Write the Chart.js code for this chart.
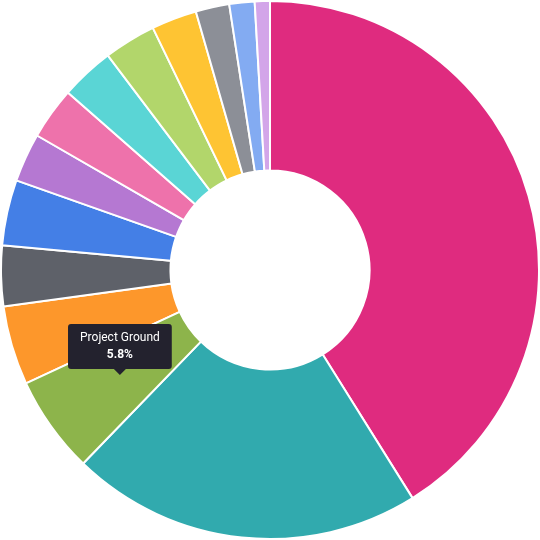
<!DOCTYPE html>
<html>
<head>
<meta charset="utf-8">
<script src="https://cdn.jsdelivr.net/npm/chart.js@4"></script>
<style>
  html, body { margin: 0; padding: 0; background: #fff; }
  #wrap { width: 540px; height: 540px; }
</style>
</head>
<body>
<div id="wrap"><canvas id="donutChart"></canvas></div>
<script>
// Project share data (percent), clockwise from top
const projectLabels = ['Project Core', 'Project Harbor', 'Project Ground', 'Project Flame', 'Project Stone',
  'Project Wave', 'Project Bloom', 'Project Rose', 'Project Reef', 'Project Leaf',
  'Project Sun', 'Project Ash', 'Project Sky', 'Project Lilac'];
const projectShares = [40.7, 20.9, 5.8, 4.7, 3.6, 3.9, 2.9, 3.1, 3.2, 3.1, 2.7, 2.0, 1.5, 0.9];
const sliceColors = ['#df2b7f', '#31aaae', '#8db44b', '#fd972b', '#5e6169',
  '#447fe6', '#b578d2', '#ee72ab', '#5ad5d5', '#b2d66b',
  '#fec433', '#8c8f97', '#83abf2', '#d3a5e9'];
const activeIndex = 2;

const ctx = document.getElementById('donutChart').getContext('2d');
const donutChart = new Chart(ctx, {
    type: 'doughnut',
    data: {
        labels: projectLabels,
        datasets: [{
            data: projectShares,
            backgroundColor: sliceColors,
            hoverBackgroundColor: sliceColors,
            borderColor: '#ffffff',
            borderWidth: 2,
            hoverBorderColor: '#ffffff',
            hoverOffset: 0
        }]
    },
    options: {
        responsive: true,
        maintainAspectRatio: false,
        animation: false,
        cutout: '37%',
        layout: { padding: 0 },
        plugins: {
            legend: { display: false },
            tooltip: {
                backgroundColor: '#23222e',
                displayColors: false,
                titleAlign: 'center',
                bodyAlign: 'center',
                yAlign: 'bottom',
                caretSize: 6,
                cornerRadius: 3,
                padding: { x: 12, y: 7 },
                titleMarginBottom: 2,
                titleFont: { family: 'Roboto', size: 12, weight: 'normal' },
                bodyFont: { family: 'Roboto', size: 12, weight: 'bold' },
                callbacks: {
                    title: items => items[0].label,
                    label: item => item.parsed + '%'
                }
            }
        }
    }
});

donutChart.setActiveElements([{ datasetIndex: 0, index: activeIndex }]);
donutChart.tooltip.setActiveElements([{ datasetIndex: 0, index: activeIndex }], { x: 128, y: 360 });
donutChart.update();
</script>
</body>
</html>
